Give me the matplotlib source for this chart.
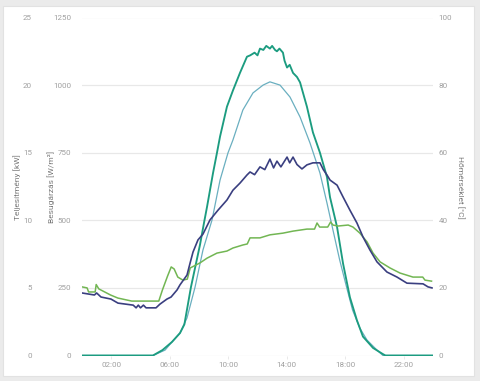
import matplotlib
matplotlib.use("Agg")
from matplotlib import pyplot as plt
from matplotlib.patches import Rectangle

plt.rcParams['font.family'] = ['Roboto', 'DejaVu Sans']

# Teljesítmény [kW] - hours, kW
power_t = [0, 4.85, 5.5, 6.15, 6.7, 7.0, 7.45, 8.07, 8.34, 8.55, 8.96, 9.23, 9.44, 9.91,
           10.32, 10.8, 11.28, 11.5, 11.8, 12.0, 12.17, 12.4, 12.6, 12.85, 13.0,
           13.2, 13.33, 13.5, 13.74, 13.85, 14.02, 14.2, 14.43, 14.7, 14.91,
           15.38, 15.79, 16.27, 16.75, 16.96, 17.44, 17.85, 18.32, 18.8, 19.21,
           19.9, 20.58, 20.75, 24]
power_kw = [0, 0, 0.4, 1.0, 1.66, 2.3, 5.06, 8.2, 9.8, 11.0, 13.5, 15.0, 16.2, 18.4,
            19.6, 20.9, 22.1, 22.2, 22.4, 22.2, 22.7, 22.6, 22.9, 22.7, 22.9,
            22.6, 22.5, 22.7, 22.4, 21.8, 21.3, 21.5, 20.9, 20.6, 20.2,
            18.4, 16.5, 15.0, 13.2, 11.7, 9.5, 6.8, 4.3, 2.6, 1.4,
            0.56, 0.1, 0, 0]

# Besugárzás [W/m²]
irr_t = [0, 4.85, 5.68, 6.15, 6.7, 7.18, 7.73, 8.27, 8.89, 9.44, 9.98, 10.32,
         11.0, 11.69, 12.38, 12.85, 13.54, 14.22, 14.91, 15.59, 16.27, 16.75,
         17.16, 17.62, 18.09, 18.5, 19.0, 19.49, 20.17, 20.58, 24]
irr_wm2 = [0, 0, 20, 50, 83, 139, 253, 390, 501, 649, 749, 797,
           908, 971, 1000, 1012, 1000, 956, 882, 786, 675, 564,
           464, 353, 253, 168, 101, 57, 20, 0, 0]

# Modul hőmérséklet [°C]
tmod_t = [0, 0.85, 1.0, 1.3, 1.98, 2.46, 3.5, 3.7, 3.85, 4.0, 4.2, 4.38, 5.06,
          5.33, 5.81, 6.09, 6.5, 6.7, 7.18, 7.4, 7.59, 7.93, 8.27, 8.75, 9.3,
          9.91, 10.32, 10.8, 11.28, 11.49, 11.8, 12.17, 12.5, 12.85, 13.1, 13.33,
          13.6, 14.02, 14.2, 14.43, 14.7, 15.04, 15.38, 15.79, 16.27, 16.5,
          16.75, 16.96, 17.44, 17.85, 18.32, 18.8, 19.21, 19.69, 20.17, 20.85,
          21.54, 22.22, 23.32, 23.66, 23.93]
tmod_c = [18.5, 17.9, 18.5, 17.3, 16.7, 15.5, 14.9, 14.1, 14.9, 14.1, 14.9, 14.1, 14.1,
          15.2, 16.7, 17.3, 19.4, 20.9, 23.8, 27.5, 30.6, 34.2, 35.9, 40.1, 43.0,
          46.0, 48.9, 51.0, 53.4, 54.3, 53.5, 55.8, 55.0, 58.1, 55.5, 57.5,
          55.8, 58.7, 57.0, 58.7, 56.5, 55.2, 56.4, 57.0, 57.0, 55.0,
          53.4, 51.9, 50.4, 46.9, 43.0, 39.2, 35.1, 31.2, 27.7, 24.7,
          23.2, 21.4, 21.2, 20.3, 20.0]

# Levegő hőmérséklet [°C]
tamb_t = [0, 0.35, 0.45, 0.9, 0.97, 1.15, 1.55, 1.95, 2.45, 3.4, 5.25, 5.5, 5.85,
          6.1, 6.3, 6.55, 6.9, 7.2, 7.4, 8.07, 8.55, 9.23, 9.91, 10.32, 11.0,
          11.3, 11.49, 12.17, 12.85, 13.74, 14.43, 15.38, 15.9, 16.07, 16.25,
          16.8, 17.0, 17.16, 17.5, 18.2, 18.53, 19.0, 19.49, 19.9, 20.38, 21.06,
          21.74, 22.63, 23.3, 23.45, 23.9]
tamb_c = [20.3, 20.0, 18.8, 18.8, 21.0, 19.7, 18.8, 17.9, 17.0, 16.1, 16.1, 19.4, 23.5,
          26.2, 25.6, 23.2, 22.3, 22.6, 25.9, 27.4, 28.8, 30.3, 30.9, 31.8, 32.7,
          33.0, 34.8, 34.8, 35.7, 36.2, 36.8, 37.4, 37.4, 39.2, 38.0,
          38.0, 39.5, 38.6, 38.3, 38.6, 38.0, 36.2, 33.6, 30.3, 27.7, 25.9,
          24.4, 23.2, 23.2, 22.3, 22.0]

hour_ticks = [2, 6, 10, 14, 18, 22]
hour_labels = ["02:00", "06:00", "10:00", "14:00", "18:00", "22:00"]
irr_ticks = [0, 250, 500, 750, 1000, 1250]
kw_ticks = [0, 5, 10, 15, 20, 25]
temp_ticks = [0, 20, 40, 60, 80, 100]

W, H = 480, 381
tick_col = "#a0a0a0"
label_col = "#7a7a7a"

fig = plt.figure(figsize=(W / 100, H / 100), dpi=100)
fig.patch.set_facecolor("#ebebeb")
fig.patches.append(Rectangle((3 / W, 5 / H), 471 / W, 370 / H,
                             transform=fig.transFigure, facecolor="white",
                             edgecolor="#e2e2e2", linewidth=0.8, zorder=-1))

ax = fig.add_axes([82 / W, 25.5 / H, 351 / W, 338 / H])
ax.set_facecolor("none")
ax.set_xlim(0, 24)
ax.set_ylim(0, 1250)
ax.set_yticks(irr_ticks)
ax.set_xticks(hour_ticks)
ax.set_xticklabels(hour_labels)
ax.grid(axis="y", color="#e8e8e8", linewidth=0.9)
ax.set_axisbelow(True)
for s in ax.spines.values():
    s.set_visible(False)
ax.tick_params(axis="y", length=0, pad=8, labelsize=5.8, labelcolor=tick_col)
ax.tick_params(axis="x", length=2, width=0.5, color="#e0e0e0", pad=3,
               labelsize=5.8, labelcolor=tick_col)

ax_kw = ax.twinx()
ax_kw.set_ylim(0, 25)
ax_kw.set_yticks(kw_ticks)
ax_kw.yaxis.tick_left()
ax_kw.tick_params(axis="y", length=0, pad=36, labelsize=5.8, labelcolor=tick_col)
for s in ax_kw.spines.values():
    s.set_visible(False)

ax_t = ax.twinx()
ax_t.set_ylim(0, 100)
ax_t.set_yticks(temp_ticks)
ax_t.tick_params(axis="y", length=0, pad=4, labelsize=5.8, labelcolor=tick_col)
for s in ax_t.spines.values():
    s.set_visible(False)

ax.plot(irr_t, irr_wm2, color="#6aafc0", linewidth=0.9)
ax_kw.plot(power_t, power_kw, color="#1c9c80", linewidth=1.35)
ax_t.plot(tamb_t, tamb_c, color="#72b653", linewidth=1.1)
ax_t.plot(tmod_t, tmod_c, color="#3a3f80", linewidth=1.2)

fig.text(17 / W, 1 - 187 / H, "Teljesítmény [kW]", rotation=90, ha="center",
         va="center", fontsize=6, color=label_col)
fig.text(51 / W, 1 - 187 / H, "Besugárzás [W/m²]", rotation=90, ha="center",
         va="center", fontsize=6, color=label_col)
fig.text(461 / W, 1 - 187 / H, "Hőmérséklet [°C]", rotation=-90, ha="center",
         va="center", fontsize=6, color=label_col)

fig.savefig("out.png", dpi=100, facecolor=fig.get_facecolor())
